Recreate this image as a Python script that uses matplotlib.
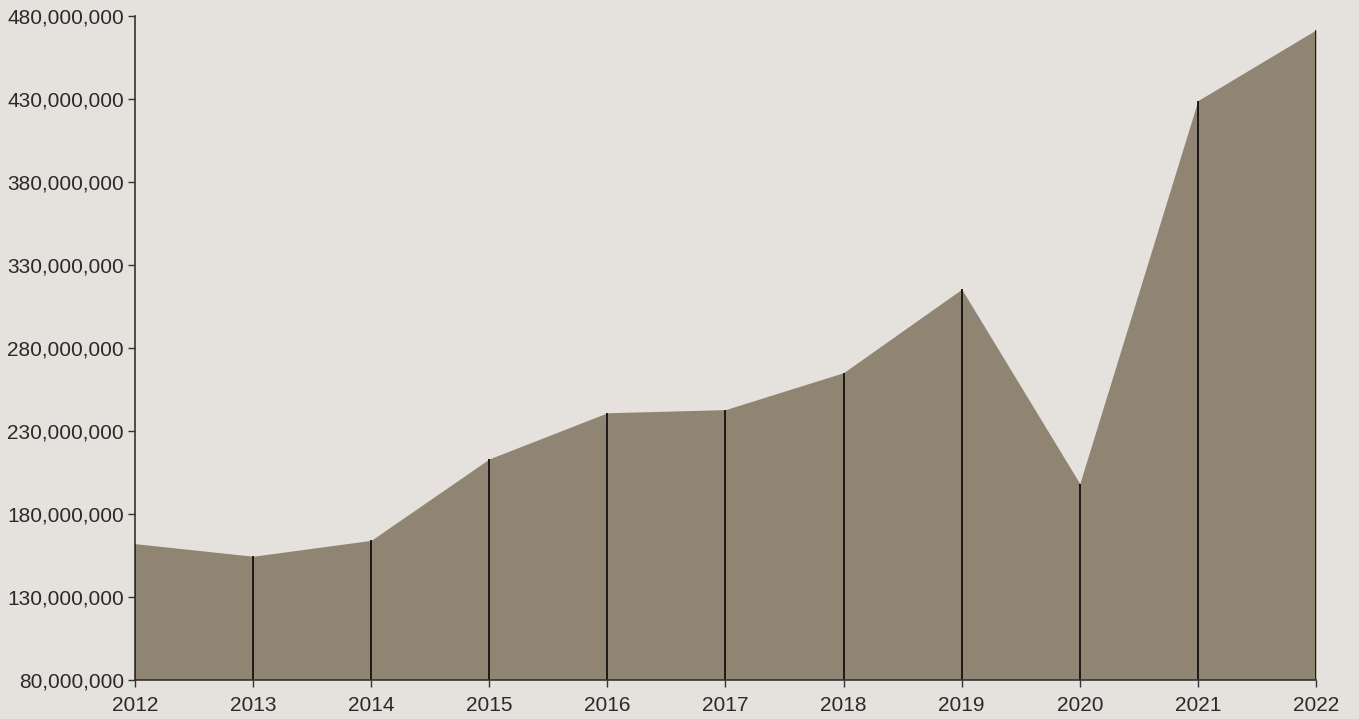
import matplotlib.pyplot as plt
from matplotlib.ticker import FuncFormatter

# Valores
years = [2012, 2013, 2014, 2015, 2016, 2017, 2018, 2019, 2020, 2021, 2022]
values = [161.9e6, 154.3e6, 163.9e6, 213.0e6, 240.8e6, 242.7e6, 265.0e6,
          315.3e6, 198.1e6, 429.0e6, 471.6e6]
y_ticks = [80e6, 130e6, 180e6, 230e6, 280e6, 330e6, 380e6, 430e6, 480e6]

bg = '#e5e2dd'
fill_color = '#8f8572'

plt.rcParams['font.family'] = ['Liberation Sans', 'DejaVu Sans']

fig = plt.figure(figsize=(13.59, 7.19), dpi=100, facecolor=bg)
ax = fig.add_axes([135 / 1359, 39.5 / 719, 1181 / 1359, 663.5 / 719])
ax.set_facecolor(bg)

ax.fill_between(years, values, y_ticks[0], color=fill_color, linewidth=0)
ax.vlines(years, y_ticks[0], values, color='#111111', linewidth=1.3)

ax.set_xlim(years[0], years[-1])
ax.set_ylim(y_ticks[0], y_ticks[-1])
ax.set_xticks(years)
ax.set_yticks(y_ticks)
ax.yaxis.set_major_formatter(FuncFormatter(lambda v, p: f'{int(v):,}'))

for s in ['top', 'right']:
    ax.spines[s].set_visible(False)
for s in ['left', 'bottom']:
    ax.spines[s].set_color('#333333')
    ax.spines[s].set_linewidth(1.2)

ax.tick_params(axis='both', colors='#333333', labelcolor='#2a2a2a',
               labelsize=15, length=5, width=1)
ax.tick_params(axis='y', pad=3)
ax.tick_params(axis='x', pad=7)

fig.savefig('out.png', dpi=100, facecolor=bg)
